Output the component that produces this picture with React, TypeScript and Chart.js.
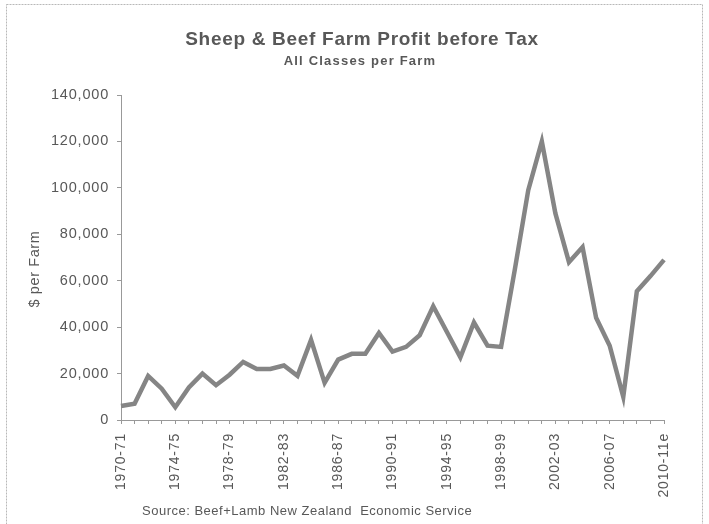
import React, { useEffect, useRef } from "react";
import { Chart, registerables } from "chart.js";

Chart.register(...registerables);

const categories: string[] = [
  "1970-71", "1971-72", "1972-73", "1973-74", "1974-75", "1975-76", "1976-77", "1977-78",
  "1978-79", "1979-80", "1980-81", "1981-82", "1982-83", "1983-84", "1984-85", "1985-86",
  "1986-87", "1987-88", "1988-89", "1989-90", "1990-91", "1991-92", "1992-93", "1993-94",
  "1994-95", "1995-96", "1996-97", "1997-98", "1998-99", "1999-00", "2000-01", "2001-02",
  "2002-03", "2003-04", "2004-05", "2005-06", "2006-07", "2007-08", "2008-09", "2009-10",
  "2010-11e",
];

const profitPerFarm: number[] = [
  6000, 7000, 19000, 13500, 5500, 14000, 20000, 15000,
  19500, 25000, 22000, 22000, 23500, 19000, 34500, 16000,
  26000, 28500, 28500, 37500, 29500, 31500, 36500, 49000,
  38000, 27000, 42000, 32000, 31500, 64500, 99000, 120000,
  89000, 68000, 74500, 44000, 32000, 10000, 55500, 62000,
  69000,
];

const yTicks: number[] = [0, 20000, 40000, 60000, 80000, 100000, 120000, 140000];

const titleText = "Sheep & Beef Farm Profit before Tax";
const subtitleText = "All Classes per Farm";
const yAxisTitle = "$ per Farm";
const sourceText = "Source: Beef+Lamb New Zealand  Economic Service";

const FONT = "'Liberation Sans', Arial, Helvetica, sans-serif";
const W = 709;
const H = 524;
const SPACING = "0.8px";

export default function App() {
  const ref = useRef<HTMLCanvasElement | null>(null);

  useEffect(() => {
    const canvas = ref.current;
    if (!canvas) return;

    const setSpacing = (chart: any) => {
      try {
        (chart.ctx as any).letterSpacing = SPACING;
      } catch (e) {
        /* ignore */
      }
    };

    const drawText = (
      ctx: CanvasRenderingContext2D,
      text: string,
      x: number,
      y: number,
      font: string,
      align: CanvasTextAlign,
      spacing: string,
      rotate = 0
    ) => {
      ctx.save();
      (ctx as any).letterSpacing = spacing;
      ctx.fillStyle = "#585858";
      ctx.font = font;
      ctx.textBaseline = "middle";
      ctx.textAlign = align;
      ctx.translate(x, y);
      if (rotate) ctx.rotate(rotate);
      ctx.fillText(text, 0, 0);
      ctx.restore();
    };

    const framePlugin = {
      id: "frame",
      beforeInit: setSpacing,
      beforeUpdate: setSpacing,
      beforeLayout: setSpacing,
      beforeDraw(chart: any) {
        const ctx = chart.ctx;
        ctx.save();
        ctx.fillStyle = "#ffffff";
        ctx.fillRect(0, 0, W, H);
        ctx.strokeStyle = "#b8b8b8";
        ctx.lineWidth = 1;
        ctx.setLineDash([2, 1]);
        ctx.strokeRect(6.5, 4.5, 696, 530);
        ctx.restore();
        setSpacing(chart);
      },
      afterDraw(chart: any) {
        const ctx = chart.ctx;
        drawText(ctx, titleText, 362, 40, `bold 19px ${FONT}`, "center", "0.7px");
        drawText(ctx, subtitleText, 360, 61, `bold 13px ${FONT}`, "center", "1.2px");
        drawText(ctx, yAxisTitle, 35, 269, `14.5px ${FONT}`, "center", "0.6px", -Math.PI / 2);
        drawText(ctx, sourceText, 142, 511, `13px ${FONT}`, "left", "0.5px");
      },
    };

    const chart = new Chart(canvas, {
      type: "line",
      data: {
        labels: categories,
        datasets: [
          {
            label: "Profit before Tax",
            data: profitPerFarm,
            borderColor: "#858585",
            borderWidth: 4.5,
            pointRadius: 0,
            tension: 0,
            fill: false,
          },
        ],
      },
      options: {
        responsive: false,
        animation: false,
        devicePixelRatio: 1,
        layout: { padding: { left: 0, right: 45, top: 95, bottom: 0 } },
        plugins: {
          legend: { display: false },
          tooltip: { enabled: false },
          title: { display: false },
        },
        scales: {
          x: {
            type: "category",
            offset: false,
            afterFit: (s: any) => {
              s.height = 104;
            },
            grid: {
              display: true,
              drawOnChartArea: false,
              drawTicks: true,
              tickLength: 4,
              color: "#999999",
            },
            border: { display: true, color: "#999999", width: 1, dash: [2, 1] },
            ticks: {
              autoSkip: false,
              maxRotation: 90,
              minRotation: 90,
              padding: 9,
              color: "#585858",
              font: { family: FONT, size: 14 },
              callback: (_v: any, i: number) => (i % 4 === 0 ? categories[i] : ""),
            },
          },
          y: {
            min: yTicks[0],
            max: yTicks[yTicks.length - 1],
            afterFit: (s: any) => {
              s.width = 121;
            },
            afterBuildTicks: (s: any) => {
              s.ticks = yTicks.map((v) => ({ value: v }));
            },
            grid: {
              display: true,
              drawOnChartArea: false,
              drawTicks: true,
              tickLength: 4,
              color: "#999999",
            },
            border: { display: true, color: "#999999", width: 1, dash: [2, 1] },
            ticks: {
              padding: 8,
              color: "#585858",
              font: { family: FONT, size: 14.5 },
              callback: (v: any) => Number(v).toLocaleString("en-US"),
            },
            title: { display: false },
          },
        },
      },
      plugins: [framePlugin],
    });

    return () => chart.destroy();
  }, []);

  return (
    <div style={{ position: "fixed", left: 0, top: 0, width: W, height: H, background: "#fff" }}>
      <canvas ref={ref} width={W} height={H} style={{ width: W, height: H, display: "block" }} />
    </div>
  );
}
